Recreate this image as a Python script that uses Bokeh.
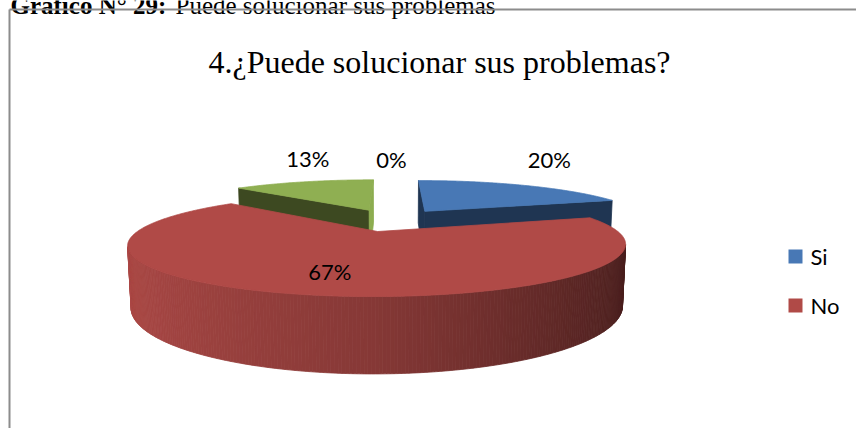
import math
import numpy as np
from bokeh.plotting import figure
from bokeh.models import Range1d, ColumnDataSource
from bokeh.core.properties import value
from bokeh.embed import file_html
from bokeh.resources import INLINE

# ---------------- data ----------------
caption_bold = "Gráfico N° 29:"
caption_rest = "Puede solucionar sus problemas"
chart_title = "4.¿Puede solucionar sus problemas?"
categories = ["Si", "No", "A veces", "Nunca"]
percentages = [20, 67, 13, 0]
value_labels = ["20%", "67%", "13%", "0%"]
legend_categories = ["Si", "No"]

# ---------------- styles ----------------
TOP = [(72, 120, 181), (176, 74, 71), (143, 175, 82), (127, 98, 160)]
SIDE_DARK = ["#1F3552", "#6A2826", "#3D4921", "#3A2C4C"]
SIDE_LIGHT = ["#8DAD50", "#A04440", "#8DAD50", "#6E5590"]
LABEL_R = [1.3, 0.7, 0.92, 1.0]
LABEL_DY = [-20, 0, -25, -20]

W, H = 856, 428
p = figure(width=W, height=H, x_range=Range1d(0, W), y_range=Range1d(H, 0),
           output_backend="svg", toolbar_location=None, min_border=0,
           x_axis_type=None, y_axis_type=None)
p.grid.visible = False
p.outline_line_color = None
p.background_fill_color = "white"
p.border_fill_color = "white"

# ---------------- camera ----------------
F = 900.0
DIST = 4.0
SPHI = 0.187
CPHI = math.sqrt(1 - SPHI ** 2)
CX, CY = 391.0, 219.4
EXPL = 0.265
THICK = 0.25
CAM = (0.0, DIST * SPHI, -DIST * CPHI)


def proj(X, Y, Z):
    X = np.asarray(X, float); Y = np.asarray(Y, float); Z = np.asarray(Z, float)
    yv = Y * CPHI + Z * SPHI
    zv = Z * CPHI - Y * SPHI
    den = DIST + zv
    return CX + F * X / den, CY - F * yv / den


def hexc(rgb):
    return "#%02x%02x%02x" % tuple(int(max(0, min(255, round(c)))) for c in rgb)


def lerp(a, b, t):
    return tuple(a[k] + (b[k] - a[k]) * t for k in range(3))


fx, fy, fc = [], [], []


def add(xs, ys, c):
    fx.append(list(xs)); fy.append(list(ys)); fc.append(c)


total = float(sum(percentages))
cum = np.cumsum([0] + percentages)
slices = []
for i, v in enumerate(percentages):
    a0 = 2 * math.pi * cum[i] / total
    a1 = 2 * math.pi * cum[i + 1] / total
    m = (a0 + a1) / 2
    slices.append((i, v, a0, a1, m, EXPL * math.sin(m), EXPL * math.cos(m)))

draw_order = sorted([s for s in slices if s[1] > 0], key=lambda s: -s[6])
for (i, v, a0, a1, m, ox, oz) in draw_order:
    top = TOP[i]
    # radial faces
    for ang, sgn in ((a0, -1), (a1, 1)):
        nx, nz = sgn * math.cos(ang), -sgn * math.sin(ang)
        vis = nx * (CAM[0] - ox) + nz * (CAM[2] - oz)
        if vis > 0:
            X = [ox, ox + math.sin(ang), ox + math.sin(ang), ox]
            Z = [oz, oz + math.cos(ang), oz + math.cos(ang), oz]
            Y = [0, 0, -THICK, -THICK]
            xs, ys = proj(X, Y, Z)
            add(xs, ys, SIDE_LIGHT[i] if nx > 0.8 else SIDE_DARK[i])
    # outer rim strips
    n = max(8, int(math.degrees(a1 - a0) * 1.5))
    th = np.linspace(a0, a1, n + 1)
    for k in range(n):
        tm = 0.5 * (th[k] + th[k + 1])
        vis = -ox * math.sin(tm) - 1 - math.cos(tm) * (DIST * CPHI + oz)
        if vis > 0:
            t2 = [th[k], th[k + 1], th[k + 1], th[k]]
            X = [ox + math.sin(t) for t in t2]
            Z = [oz + math.cos(t) for t in t2]
            Y = [0, 0, -THICK, -THICK]
            xs, ys = proj(X, Y, Z)
            u = (math.sin(tm) + 1) / 2
            left = tuple(c * 0.98 for c in top)
            mid = tuple(c * 0.76 for c in top)
            right = tuple(c * 0.40 for c in top)
            col = lerp(left, mid, u / 0.5) if u < 0.5 else lerp(mid, right, (u - 0.5) / 0.5)
            add(xs, ys, hexc(col))
    # top face
    ta = np.linspace(a0, a1, n * 2 + 1)
    X = [ox] + [ox + math.sin(t) for t in ta]
    Z = [oz] + [oz + math.cos(t) for t in ta]
    xs, ys = proj(X, [0] * len(X), Z)
    add(xs, ys, hexc(top))

src = ColumnDataSource(dict(xs=fx, ys=fy, c=fc))
p.patches("xs", "ys", source=src, fill_color="c", line_color="c", line_width=0.8)

# ---------------- value labels ----------------
lx, ly = [], []
for (i, v, a0, a1, m, ox, oz) in slices:
    r = LABEL_R[i]
    x, y = proj([ox + r * math.sin(m)], [0], [oz + r * math.cos(m)])
    lx.append(float(x[0])); ly.append(float(y[0]) + LABEL_DY[i])
p.text(x=lx, y=ly, text=value_labels, text_font=value("Lato"), text_font_size="22px",
       text_align="center", text_baseline="middle", text_color="#000000")

# ---------------- title ----------------
p.text(x=[439], y=[61], text=[chart_title], text_font=value("Liberation Serif"),
       text_font_size="32px", text_align="center", text_baseline="alphabetic", text_color="#000000")

# ---------------- caption (cut at the top of the picture, as in the source) ----------------
CAP_SIZE = 25
p.text(x=[10], y=[5], text=[caption_bold], text_font=value("Liberation Serif"),
       text_font_size=f"{CAP_SIZE}px", text_font_style="bold", text_align="left",
       text_baseline="alphabetic", text_color="#000000")
p.text(x=[10 + 6.6 * CAP_SIZE], y=[5], text=[caption_rest], text_font=value("Liberation Serif"),
       text_font_size=f"{CAP_SIZE}px", text_align="left", text_baseline="alphabetic", text_color="#000000")

# ---------------- legend ----------------
LEG_X, LEG_Y0, LEG_DY = 795, 256, 49
for j, name in enumerate(legend_categories):
    idx = categories.index(name)
    yy = LEG_Y0 + j * LEG_DY
    p.rect(x=[LEG_X], y=[yy], width=14, height=14, fill_color=hexc(TOP[idx]), line_color=None)
    p.text(x=[LEG_X + 15], y=[yy], text=[name], text_font=value("Lato"), text_font_size="22px",
           text_align="left", text_baseline="middle", text_color="#000000")

# ---------------- chart frame ----------------
p.multi_line(xs=[[9, 9], [9, W]], ys=[[H, 9], [9, 9]], line_color="#8C8C8C", line_width=2)

open("out.html", "w").write(file_html(p, INLINE))
